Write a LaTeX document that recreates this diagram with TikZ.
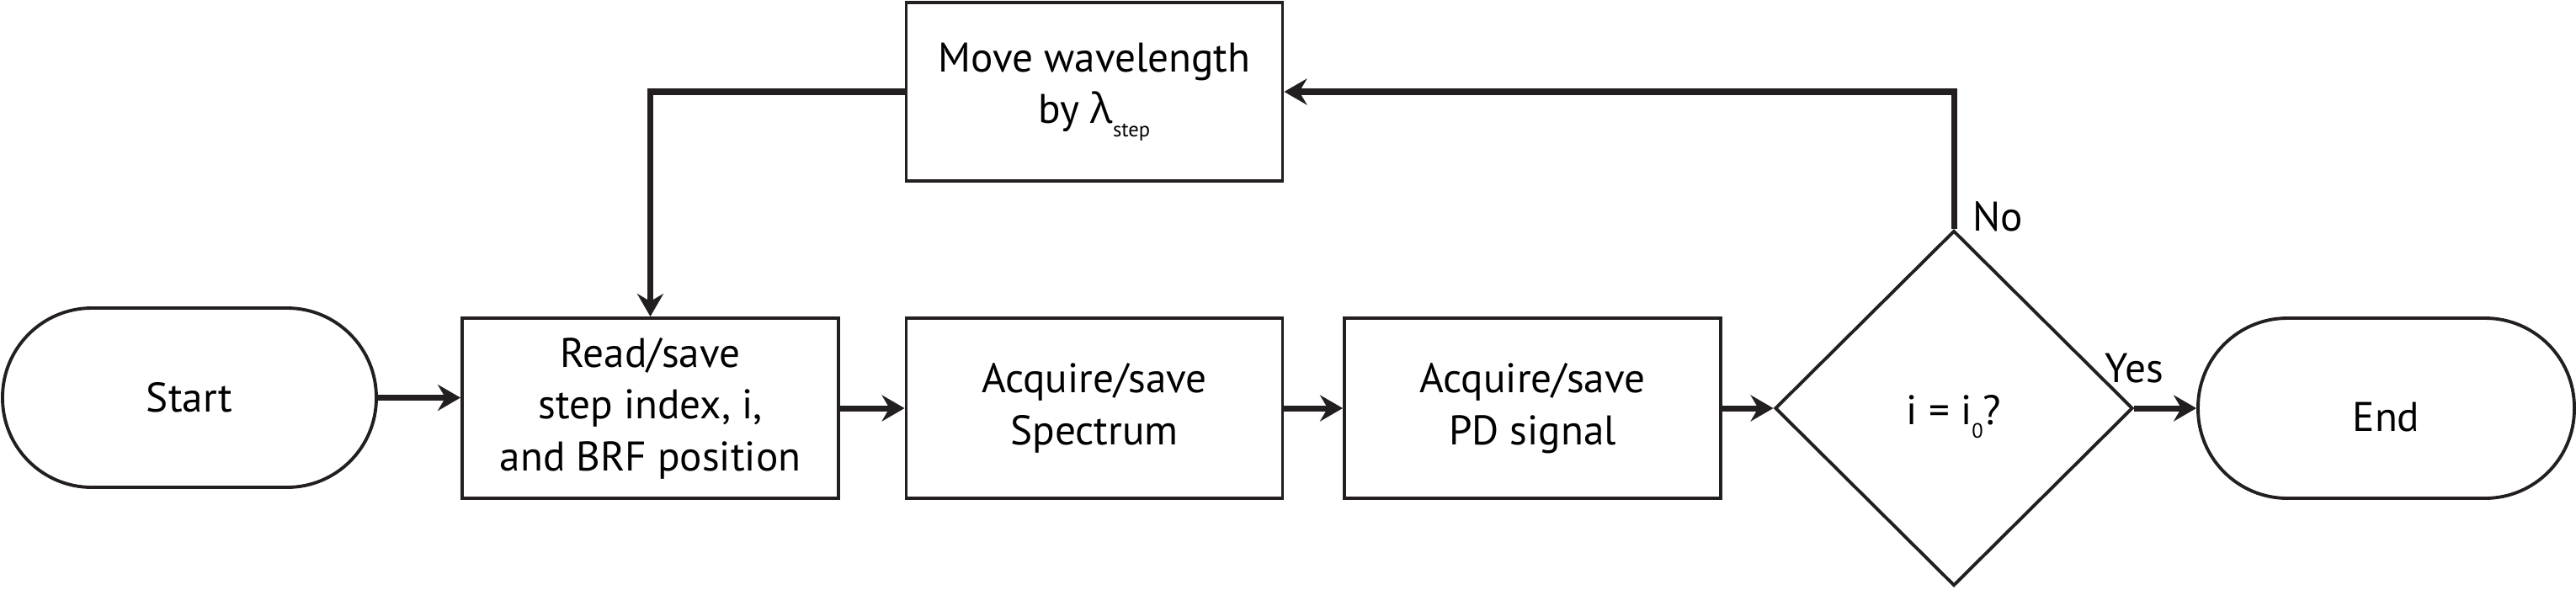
\documentclass[tikz,border=0pt]{standalone}
\usepackage{fontspec}
\setmainfont{PT Sans}
\newfontfamily\grk{Open Sans}
\usepackage{tikz}
\definecolor{ink}{RGB}{35,31,32}
\usetikzlibrary{arrows.meta}
\usetikzlibrary{shapes.geometric}
\pgfdeclarelayer{edgelayer}
\pgfdeclarelayer{nodelayer}
\pgfsetlayers{edgelayer,nodelayer,main}
\newcommand\lowsub[1]{\raisebox{-0.16cm}{\fontsize{7}{8}\selectfont #1}}
\newcommand\sinkby[2]{\raisebox{-#1}[\height][\depth]{#2}}
\tikzstyle{block}=[rectangle,fill=white,draw=ink,line width=1.1pt,minimum width=4.47cm,minimum height=2.14cm,align=center,inner sep=0pt,font=\fontsize{14}{17.5}\selectfont]
\tikzstyle{term}=[block,rounded corners=1.06cm]
\tikzstyle{decide}=[diamond,fill=white,draw=ink,line width=1.1pt,minimum width=4.25cm,minimum height=4.22cm,inner sep=0pt,font=\fontsize{14}{17.5}\selectfont]
\tikzstyle{tag}=[inner sep=0pt,font=\fontsize{14}{17.5}\selectfont]
\tikzstyle{flow}=[-{Stealth[length=0.27cm,width=0.31cm,inset=0.09cm]},draw=ink,line width=2pt]

\begin{document}
\begin{tikzpicture}
        \useasboundingbox (0, 0) rectangle (30.6, 7);
        \begin{pgfonlayer}{nodelayer}
            \node [style = term, minimum width=4.44cm, minimum height=2.13cm] (start) at (2.25, 2.275) {Start};
            \node [style = block] (read) at (7.725, 2.15) {Read/save\\step index, i,\\and BRF position};
            \node [style = block] (spec) at (13.0, 2.15) {Acquire/save\\Spectrum};
            \node [style = block] (pd) at (18.205, 2.15) {Acquire/save\\PD signal};
            \node [style = decide] (check) at (23.21, 2.15) {\sinkby{0.1cm}{i = i\lowsub{0}?}};
            \node [style = term] (stop) at (28.345, 2.15) {\sinkby{0.11cm}{End}};

            \node [style = block, minimum height=2.12cm] (move) at (13.0, 5.91) {Move wavelength\\by {\grk λ}\lowsub{step}};

            \node [style = tag, anchor=base west] (no) at (23.43, 4.26) {No};
            \node [style = tag, anchor=base west] (yes) at (25.0, 2.46) {Yes};
        \end{pgfonlayer}

        \begin{pgfonlayer}{edgelayer}
            \draw [style = flow] (start.east) to (start.east -| read.west);
            \draw [style = flow] (read) to (spec);
            \draw [style = flow] (spec) to (pd);
            \draw [style = flow] (pd) to (check);
            \draw [style = flow] (check) to (stop);

            \draw [style = flow] (check.north) |- (move.east);
            \draw [style = flow] (move.west) -| (read.north);
        \end{pgfonlayer}
    \end{tikzpicture}
\end{document}
